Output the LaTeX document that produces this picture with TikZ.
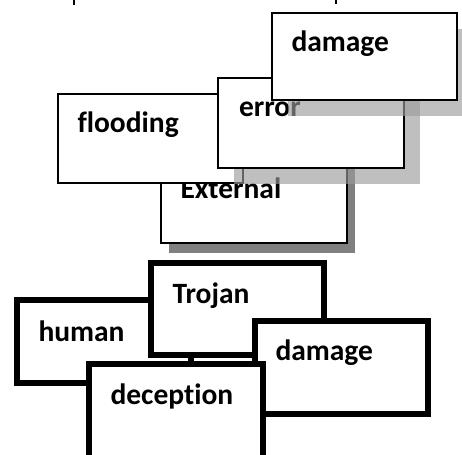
\documentclass[tikz,border=0pt]{standalone}
\usepackage{fontspec}
\setmainfont{Carlito}[Ligatures=NoCommon]
\usetikzlibrary{shadows}
\definecolor{lsh}{RGB}{155,155,155}
\definecolor{dsh}{RGB}{128,128,128}
\begin{document}
\begin{tikzpicture}[x=1pt,y=-1pt,
  box/.style={draw=black, fill=white, inner sep=0pt, outer sep=0pt, anchor=north west},
  thinbox/.style={box, line width=1.6pt},
  thickbox/.style={box, line width=6pt},
  lshadow/.style={drop shadow={shadow xshift=16pt, shadow yshift=-16pt, fill=lsh, opacity=0.64}},
  dshadow/.style={drop shadow={shadow xshift=8pt, shadow yshift=-10pt, fill=dsh, opacity=1}},
  lbl/.style={anchor=base west, inner sep=0pt, outer sep=0pt, font=\fontsize{29.5}{35}\selectfont\bfseries},
  tick/.style={line width=2.4pt, draw=black}]
\useasboundingbox (0,0) rectangle (462,454);
\clip (0,0) rectangle (462,454);
% cut-off marks at the top edge
\coordinate (t1a) at (74,0); \coordinate (t1b) at (74,5);
\coordinate (t2a) at (336,0); \coordinate (t2b) at (336,4);
\draw[tick] (t1a) -- (t1b);
\draw[tick] (t2a) -- (t2b);
% upper group
\node[thinbox, dshadow, minimum width=186pt, minimum height=90pt] (ext) at (161,153) {};
\node[lbl] (extT) at (180.5,198) {External};
\node[thinbox, minimum width=185pt, minimum height=89pt] (flood) at (58,94) {};
\node[lbl] (floodT) at (77.5,133) {flooding};
\node[thinbox, lshadow, minimum width=186pt, minimum height=90pt] (err) at (218,78) {};
\node[lbl] (errT) at (239,117) {error};
\node[thinbox, lshadow, minimum width=185pt, minimum height=87pt] (dmgA) at (272,13) {};
\node[lbl] (dmgAT) at (291.5,52) {damage};
% lower group
\node[thickbox, minimum width=174pt, minimum height=83pt] (human) at (17,300) {};
\node[lbl] (humanT) at (38.5,341) {human};
\node[thickbox, minimum width=173pt, minimum height=92pt] (troj) at (151,263) {};
\node[lbl] (trojT) at (172.5,303) {Trojan};
\node[thickbox, minimum width=173pt, minimum height=93pt] (dmgB) at (255,321) {};
\node[lbl] (dmgBT) at (275.5,360) {damage};
\node[thickbox, minimum width=174pt, minimum height=100pt] (dec) at (89,364) {};
\node[lbl] (decT) at (110.5,404) {deception};
\end{tikzpicture}
\end{document}
